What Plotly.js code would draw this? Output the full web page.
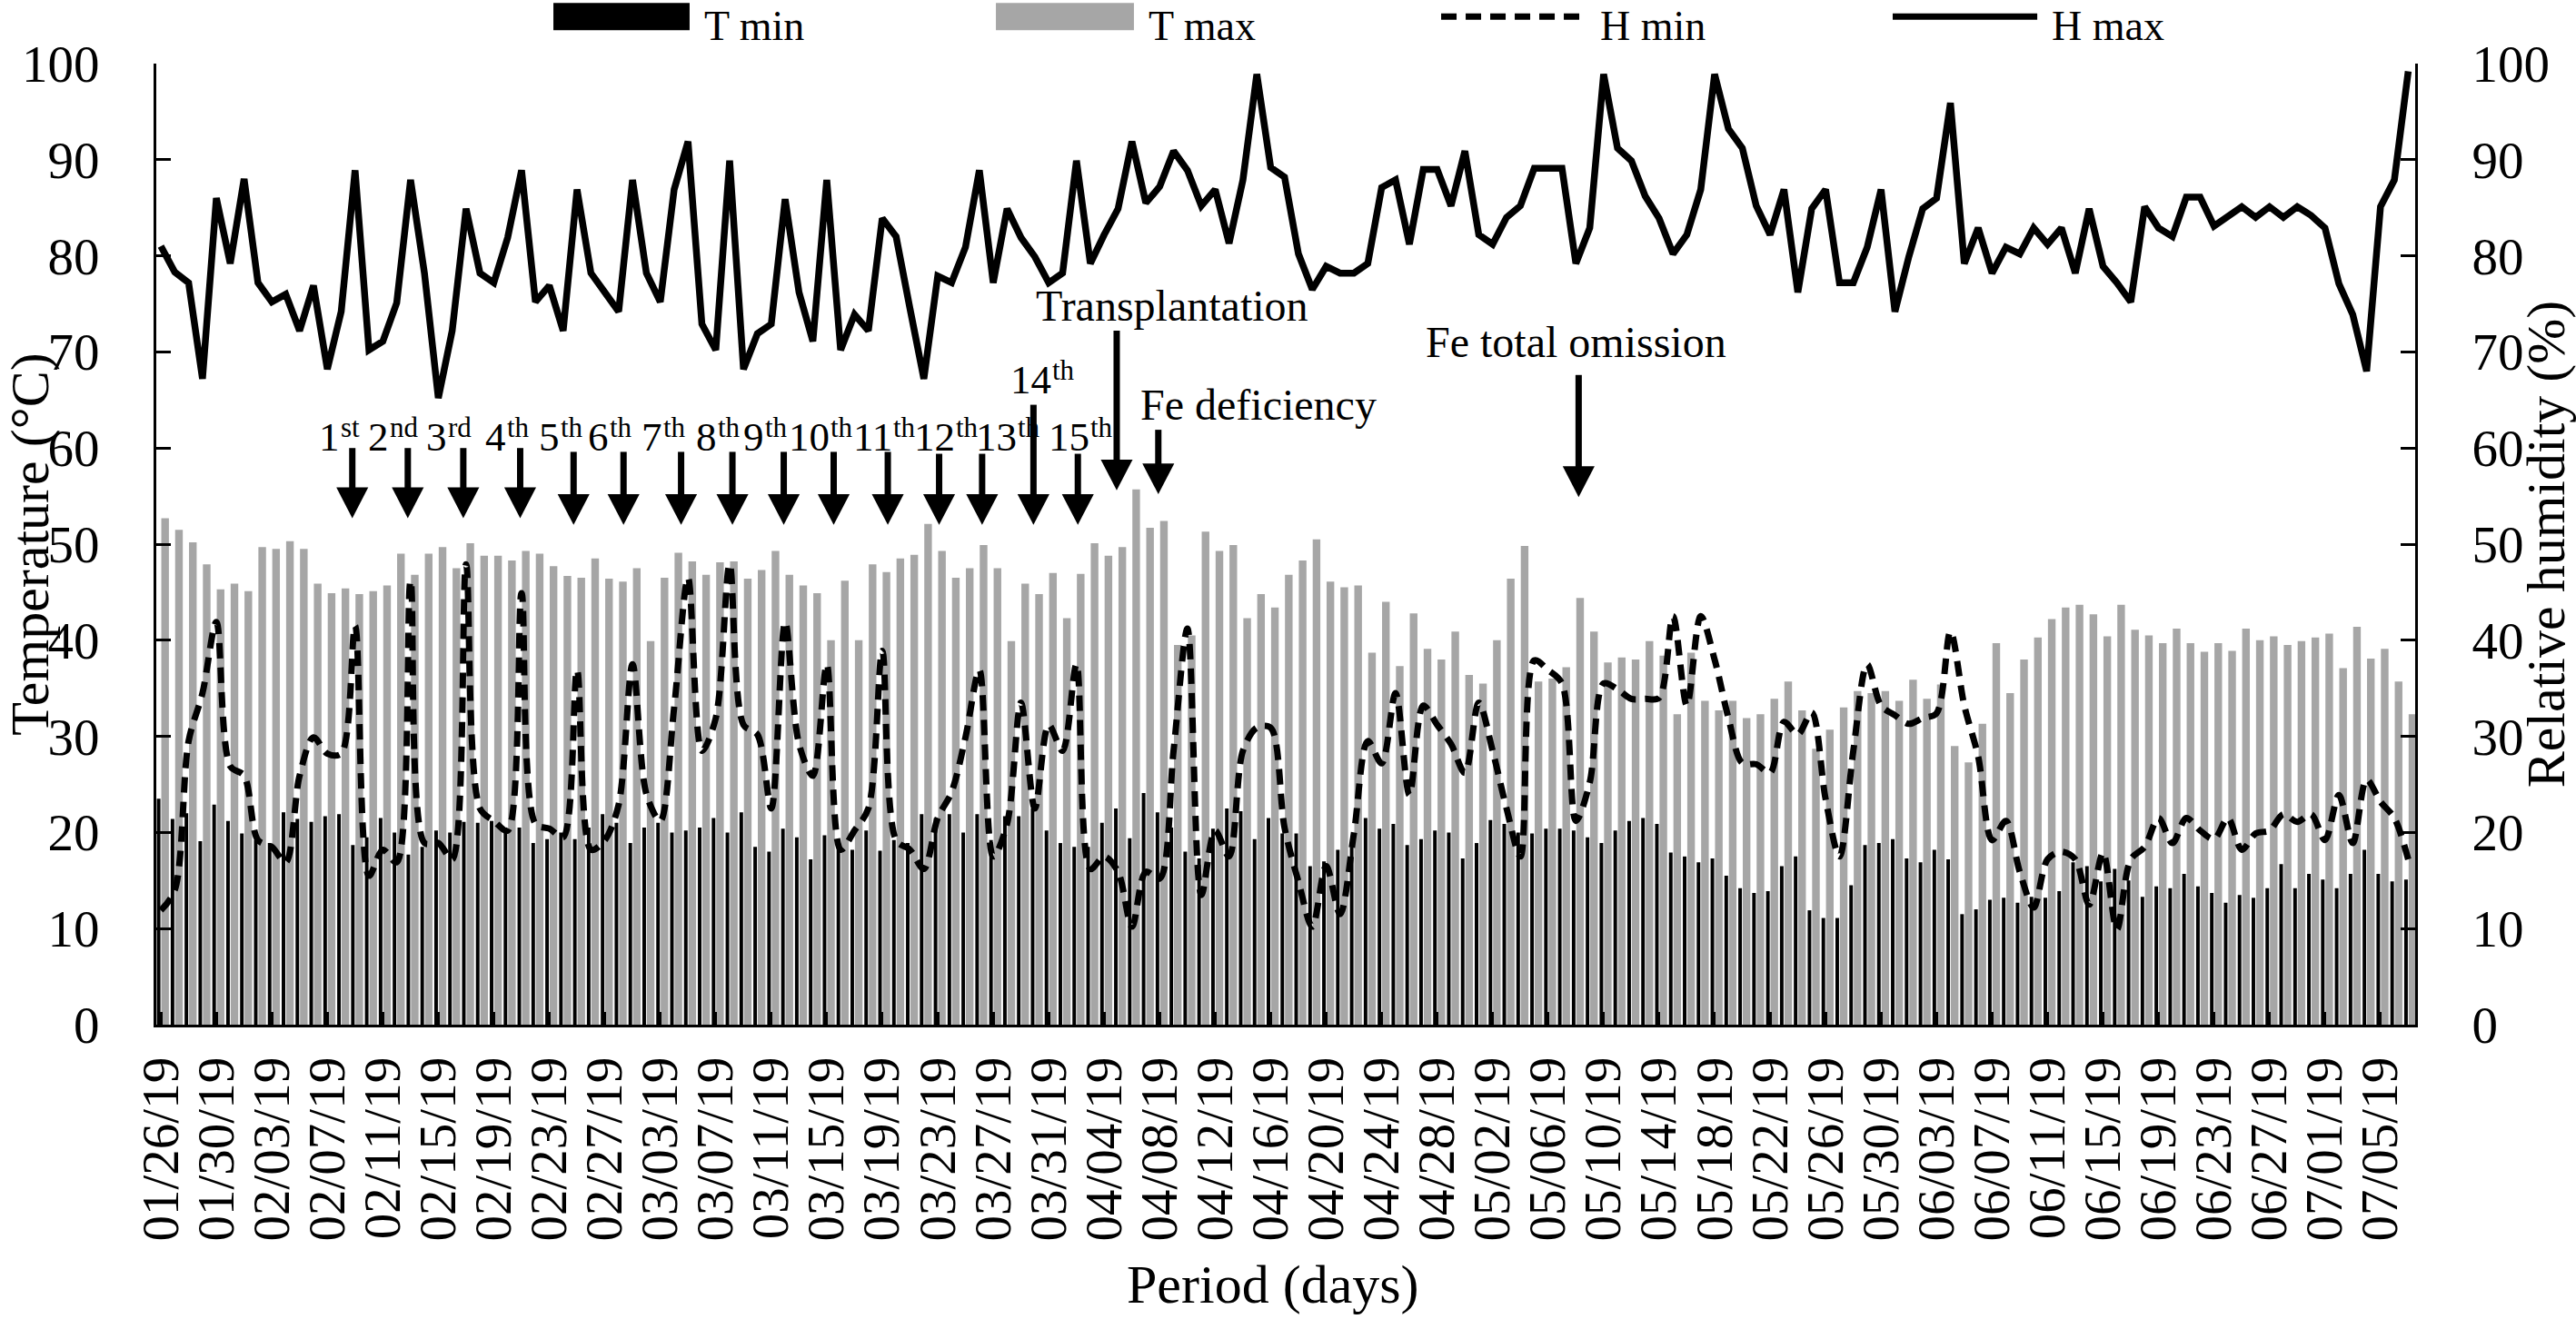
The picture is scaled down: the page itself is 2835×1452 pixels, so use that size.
<!DOCTYPE html>
<html>
<head>
<meta charset="utf-8">
<script src="https://cdn.plot.ly/plotly-3.0.1.min.js"></script>
<style>
  html, body { margin: 0; padding: 0; background: #fff; }
  #chart { width: 2835px; height: 1452px; }
</style>
</head>
<body>
<div id="chart"></div>
<script>
// daily climate in the greenhouse, one value per day from 01/26/19

const tickLabels = [
  '01/26/19', '01/30/19', '02/03/19', '02/07/19', '02/11/19', '02/15/19', '02/19/19',
  '02/23/19', '02/27/19', '03/03/19', '03/07/19', '03/11/19', '03/15/19', '03/19/19',
  '03/23/19', '03/27/19', '03/31/19', '04/04/19', '04/08/19', '04/12/19', '04/16/19',
  '04/20/19', '04/24/19', '04/28/19', '05/02/19', '05/06/19', '05/10/19', '05/14/19',
  '05/18/19', '05/22/19', '05/26/19', '05/30/19', '06/03/19', '06/07/19', '06/11/19',
  '06/15/19', '06/19/19', '06/23/19', '06/27/19', '07/01/19', '07/05/19'
];

// temperature, °C
const tMin = [
  23.5, 21.4, 22.0, 19.1, 22.9, 21.2, 19.9, 19.2, 18.9, 22.1,
  21.4, 21.1, 21.7, 21.9, 18.7, 19.5, 21.5, 20.0, 17.7, 18.5,
  20.2, 20.0, 21.1, 21.0, 21.2, 20.4, 20.5, 18.9, 19.3, 20.0,
  19.3, 20.5, 21.9, 21.0, 18.9, 20.5, 21.0, 20.0, 20.2, 20.5,
  21.5, 20.0, 22.1, 18.5, 18.0, 20.4, 19.5, 17.2, 19.7, 18.5,
  18.2, 20.2, 18.1, 19.2, 18.9, 21.9, 21.5, 21.9, 20.0, 21.9,
  19.2, 21.7, 21.7, 22.5, 20.2, 18.9, 18.5, 18.5, 21.0, 22.5,
  19.4, 24.1, 22.1, 20.5, 18.0, 17.3, 20.4, 22.5, 22.2, 19.3,
  21.5, 19.9, 19.9, 16.5, 17.0, 18.2, 18.5, 21.5, 20.4, 20.9,
  18.7, 19.3, 20.2, 20.0, 17.3, 18.9, 21.3, 20.9, 20.0, 19.9,
  20.4, 20.4, 20.2, 19.5, 18.9, 20.2, 21.2, 21.5, 20.9, 17.9,
  17.5, 16.9, 17.3, 15.5, 14.2, 13.7, 13.9, 16.5, 17.5, 11.9,
  11.1, 11.1, 14.5, 18.7, 18.9, 19.3, 17.3, 16.9, 18.2, 17.2,
  11.5, 12.0, 13.0, 13.2, 12.7, 13.3, 13.2, 13.9, 16.9, 16.5,
  14.9, 16.2, 15.0, 13.3, 14.4, 14.2, 15.7, 14.4, 13.7, 12.7,
  13.5, 13.2, 14.2, 16.7, 14.2, 15.7, 15.1, 14.2, 15.7, 18.2,
  15.7, 14.9, 15.1
];

const tMax = [
  52.7, 51.5, 50.2, 47.9, 45.3, 45.9, 45.1, 49.7, 49.5, 50.3,
  49.5, 45.9, 44.9, 45.4, 44.8, 45.1, 45.7, 49.0, 46.8, 49.0,
  49.7, 47.5, 50.1, 48.8, 48.8, 48.3, 49.3, 49.0, 47.7, 46.7,
  46.5, 48.5, 46.4, 46.1, 47.5, 39.9, 46.5, 49.1, 48.2, 46.8,
  48.1, 48.2, 46.4, 47.3, 49.3, 46.8, 45.7, 44.9, 40.0, 46.2,
  40.0, 47.9, 47.1, 48.5, 48.9, 52.1, 49.3, 46.5, 47.5, 49.9,
  47.5, 39.9, 45.9, 44.8, 47.0, 42.3, 46.9, 50.1, 48.8, 49.7,
  55.7, 51.7, 52.4, 39.5, 40.5, 51.3, 49.3, 49.9, 42.3, 44.8,
  43.4, 46.8, 48.3, 50.5, 46.1, 45.5, 45.7, 38.7, 44.0, 37.3,
  42.8, 39.1, 38.0, 40.9, 36.4, 35.5, 40.0, 46.4, 49.8, 35.7,
  36.0, 37.2, 44.4, 40.9, 37.7, 38.2, 38.0, 39.9, 38.4, 32.3,
  38.7, 33.7, 32.7, 33.7, 31.9, 32.3, 33.9, 35.7, 32.7, 28.7,
  30.7, 33.0, 34.7, 34.5, 34.7, 33.7, 35.9, 33.9, 35.4, 29.0,
  27.3, 31.3, 39.7, 34.5, 38.0, 40.3, 42.2, 43.4, 43.7, 42.7,
  40.4, 43.7, 41.1, 40.5, 39.7, 41.2, 39.7, 38.8, 39.7, 38.9,
  41.2, 40.0, 40.4, 39.5, 39.9, 40.3, 40.7, 37.1, 41.4, 38.1,
  39.1, 35.7, 32.3
];

// relative humidity, %
const hMin = [
  11.9, 14.0, 29.5, 34.5, 41.9, 26.9, 25.9, 19.2, 18.5, 16.9,
  25.9, 29.9, 28.2, 28.2, 41.5, 15.5, 18.2, 16.9, 46.2, 18.9,
  18.9, 17.2, 47.9, 22.5, 21.2, 20.2, 44.9, 20.9, 20.4, 19.5,
  36.9, 18.2, 19.2, 22.9, 37.5, 24.0, 21.2, 33.0, 46.5, 28.5,
  31.9, 47.9, 31.2, 30.2, 22.5, 41.9, 29.2, 25.9, 37.5, 18.2,
  20.2, 22.5, 38.9, 19.2, 18.2, 16.2, 21.5, 24.2, 29.9, 36.9,
  17.5, 20.9, 33.5, 22.5, 31.2, 28.5, 37.5, 16.2, 17.5, 15.9,
  10.2, 15.9, 15.2, 28.5, 41.2, 13.5, 20.2, 17.5, 28.5, 30.9,
  30.9, 20.5, 14.9, 10.2, 16.5, 11.5, 19.9, 29.5, 27.2, 34.5,
  23.9, 33.2, 31.2, 29.2, 26.2, 33.5, 28.5, 22.5, 17.5, 37.9,
  36.9, 35.5, 21.2, 25.2, 35.5, 34.9, 33.9, 33.9, 34.0, 42.5,
  33.2, 42.5, 38.0, 31.9, 27.2, 27.1, 26.2, 31.5, 30.2, 32.5,
  23.5, 17.5, 28.5, 37.5, 33.2, 32.2, 31.3, 31.9, 32.4, 40.9,
  33.2, 27.9, 19.2, 21.2, 15.9, 12.2, 17.2, 18.0, 17.2, 12.5,
  17.9, 9.9, 17.2, 18.5, 21.5, 18.9, 21.5, 20.2, 19.3, 21.5,
  18.2, 19.9, 20.2, 21.9, 21.1, 21.9, 19.2, 23.9, 18.9, 25.5,
  23.2, 21.5, 17.2
];

const hMax = [
  81.0, 78.3, 77.2, 67.2, 86.0, 79.2, 88.0, 77.2, 75.2, 76.0,
  72.2, 76.9, 68.2, 74.2, 88.9, 70.2, 71.1, 75.1, 87.9, 78.2,
  65.2, 72.2, 84.9, 78.2, 77.2, 81.9, 88.9, 75.2, 76.9, 72.2,
  86.9, 78.2, 76.2, 74.2, 87.9, 78.2, 75.2, 86.9, 91.9, 72.9,
  70.2, 89.9, 68.2, 71.9, 72.9, 85.9, 76.2, 71.1, 87.9, 70.2,
  73.9, 72.2, 83.9, 82.0, 74.5, 67.2, 77.9, 77.2, 80.9, 88.9,
  77.2, 84.9, 81.9, 79.9, 77.2, 78.2, 89.9, 79.2, 82.2, 84.9,
  91.9, 85.5, 87.2, 90.9, 88.9, 85.2, 86.9, 81.3, 87.9, 98.9,
  89.2, 88.2, 80.2, 76.5, 78.9, 78.2, 78.2, 79.2, 87.1, 87.9,
  81.2, 89.0, 89.0, 85.2, 90.9, 82.2, 81.2, 84.0, 85.2, 89.1,
  89.1, 89.1, 79.2, 82.9, 98.9, 91.2, 89.9, 86.2, 83.9, 80.2,
  82.2, 86.9, 98.9, 93.2, 91.2, 85.2, 82.2, 86.9, 76.2, 84.9,
  86.9, 77.2, 77.2, 80.9, 86.9, 74.2, 79.9, 84.9, 86.0, 95.9,
  79.2, 82.9, 78.2, 80.9, 80.2, 82.9, 81.2, 82.9, 78.2, 84.9,
  78.9, 77.2, 75.2, 85.1, 82.9, 82.0, 86.1, 86.1, 83.1, 84.0,
  85.1, 84.0, 85.1, 84.0, 85.1, 84.2, 82.9, 77.1, 73.9, 68.0,
  85.1, 87.9, 99.2
];

// one category per day, 01/26/19 onwards
function dayLabel(i) {
  const d = new Date(Date.UTC(2019, 0, 26 + i));
  const mm = String(d.getUTCMonth() + 1).padStart(2, '0');
  const dd = String(d.getUTCDate()).padStart(2, '0');
  return `${mm}/${dd}/19`;
}
const days = tMin.map((_, i) => dayLabel(i));

// events marked with arrows: label centre (day, value), arrow at day from tail to tip
const events = [
  {num: '1',  suf: 'st', lx: 12.9, ly: 58.6, ax: 13.8, tail: 60.0, tip: 52.7},
  {num: '2',  suf: 'nd', lx: 16.8, ly: 58.6, ax: 17.8, tail: 60.0, tip: 52.7},
  {num: '3',  suf: 'rd', lx: 20.8, ly: 58.6, ax: 21.8, tail: 60.0, tip: 52.7},
  {num: '4',  suf: 'th', lx: 25.0, ly: 58.6, ax: 25.9, tail: 60.0, tip: 52.7},
  {num: '5',  suf: 'th', lx: 28.9, ly: 58.6, ax: 29.75, tail: 59.6, tip: 52.0},
  {num: '6',  suf: 'th', lx: 32.4, ly: 58.6, ax: 33.35, tail: 59.6, tip: 52.0},
  {num: '7',  suf: 'th', lx: 36.3, ly: 58.6, ax: 37.5, tail: 59.6, tip: 52.0},
  {num: '8',  suf: 'th', lx: 40.2, ly: 58.6, ax: 41.2, tail: 59.6, tip: 52.0},
  {num: '9',  suf: 'th', lx: 43.6, ly: 58.6, ax: 44.9, tail: 59.6, tip: 52.0},
  {num: '10', suf: 'th', lx: 47.6, ly: 58.6, ax: 48.5, tail: 59.6, tip: 52.0},
  {num: '11', suf: 'th', lx: 52.1, ly: 58.6, ax: 52.4, tail: 59.6, tip: 52.0},
  {num: '12', suf: 'th', lx: 56.6, ly: 58.6, ax: 56.1, tail: 59.4, tip: 52.0},
  {num: '13', suf: 'th', lx: 61.1, ly: 58.6, ax: 59.2, tail: 59.4, tip: 52.0},
  {num: '14', suf: 'th', lx: 63.6, ly: 64.6, ax: 62.9, tail: 64.5, tip: 52.0},
  {num: '15', suf: 'th', lx: 66.3, ly: 58.6, ax: 66.1, tail: 59.4, tip: 52.0},
  {text: 'Transplantation', lx: 72.9, ly: 72.1, ax: 68.9, tail: 72.2, tip: 55.6},
  {text: 'Fe deficiency', lx: 79.1, ly: 61.8, ax: 71.9, tail: 61.9, tip: 55.2},
  {text: 'Fe total omission', lx: 102.0, ly: 68.3, ax: 102.2, tail: 67.6, tip: 54.9}
];

const font = 'Liberation Serif, Times New Roman, serif';
const grey = '#a6a6a6';
const numSize = 45;
const supSize = 31;
const noteSize = 48;

// arrow head size in axis units (about 35 px wide, 34 px tall)
const headHalf = 1.15;
const headLen = 3.2;

// rough Times advance widths, used to centre number + raised suffix
const advance = {s: 0.389, t: 0.278, n: 0.5, d: 0.5, r: 0.333, h: 0.5};
function textWidth(str, size) {
  return [...str].reduce((w, c) => w + (advance[c] || 0.5) * size, 0);
}

const traces = [
  {
    type: 'bar', name: 'T min', x: days, y: tMin,
    offset: -0.29, width: 0.26,
    marker: {color: '#000000', line: {width: 0}}
  },
  {
    type: 'bar', name: 'T max', x: days, y: tMax,
    offset: 0.03, width: 0.55,
    marker: {color: grey, line: {width: 0}}
  },
  {
    type: 'scatter', mode: 'lines', name: 'H min', x: days, y: hMin, yaxis: 'y2',
    line: {color: '#000000', width: 7, dash: '17px,10px', shape: 'spline', smoothing: 0.9}
  },
  {
    type: 'scatter', mode: 'lines', name: 'H max', x: days, y: hMax, yaxis: 'y2',
    line: {color: '#000000', width: 7.5}
  }
];

const annotations = [];
const shapes = [];
events.forEach(ev => {
  if (ev.num) {
    const nw = textWidth(ev.num, numSize);
    const sw = textWidth(ev.suf, supSize);
    const join = -(nw + sw) / 2 + nw;
    annotations.push({
      x: ev.lx, y: ev.ly, xref: 'x', yref: 'y', text: ev.num, showarrow: false,
      xanchor: 'right', yanchor: 'bottom', xshift: join + 1,
      font: {family: font, size: numSize, color: '#000'}
    });
    annotations.push({
      x: ev.lx, y: ev.ly, xref: 'x', yref: 'y', text: ev.suf, showarrow: false,
      xanchor: 'left', yanchor: 'bottom', xshift: join - 2, yshift: 18,
      font: {family: font, size: supSize, color: '#000'}
    });
  } else {
    annotations.push({
      x: ev.lx, y: ev.ly, xref: 'x', yref: 'y', text: ev.text, showarrow: false,
      xanchor: 'center', yanchor: 'bottom',
      font: {family: font, size: noteSize, color: '#000'}
    });
  }
  shapes.push({
    type: 'line', xref: 'x', yref: 'y', x0: ev.ax, x1: ev.ax,
    y0: ev.tail, y1: ev.tip + headLen * 0.8, line: {color: '#000', width: 7}
  });
  shapes.push({
    type: 'path', xref: 'x', yref: 'y', fillcolor: '#000', line: {width: 0},
    path: `M ${ev.ax - headHalf},${ev.tip + headLen} L ${ev.ax + headHalf},${ev.tip + headLen} L ${ev.ax},${ev.tip} Z`
  });
});

// hand-drawn legend above the plot (paper coordinates)
const legendItems = [
  {name: 'T min', kind: 'rect', color: '#000000', x0: 0.1758, x1: 0.2361},
  {name: 'T max', kind: 'rect', color: grey, x0: 0.3717, x1: 0.4328},
  {name: 'H min', kind: 'dash', color: '#000000', x0: 0.5688, x1: 0.6327},
  {name: 'H max', kind: 'line', color: '#000000', x0: 0.7687, x1: 0.8327}
];
const legendY = 1.049;
const legendTop = 1.0655;
legendItems.forEach(it => {
  if (it.kind === 'rect') {
    shapes.push({type: 'rect', xref: 'paper', yref: 'paper', x0: it.x0, x1: it.x1,
      y0: legendY - 0.0142, y1: legendY + 0.0142, fillcolor: it.color, line: {width: 0}});
  } else {
    shapes.push({type: 'line', xref: 'paper', yref: 'paper', x0: it.x0, x1: it.x1,
      y0: legendY, y1: legendY,
      line: {color: it.color, width: 7, dash: it.kind === 'dash' ? '17px,10px' : 'solid'}});
  }
  annotations.push({
    x: it.x1 + 0.0055, y: legendTop, xref: 'paper', yref: 'paper', text: it.name,
    showarrow: false, xanchor: 'left', yanchor: 'top',
    font: {family: font, size: 46, color: '#000'}
  });
});

annotations.push({
  x: 0.4944, y: -0.303, xref: 'paper', yref: 'paper', text: 'Period (days)',
  showarrow: false, xanchor: 'center', yanchor: 'bottom',
  font: {family: font, size: 60, color: '#000'}
});

const yCommon = {
  range: [0, 100], dtick: 10, ticks: 'inside', ticklen: 16, tickwidth: 3,
  tickcolor: '#000', showline: true, linewidth: 3, linecolor: '#000',
  showgrid: false, zeroline: false, ticklabelstandoff: 48,
  tickfont: {family: font, size: 57, color: '#000'}
};

const layout = {
  width: 2835, height: 1452,
  margin: {l: 172, r: 177, t: 70, b: 324},
  paper_bgcolor: '#fff', plot_bgcolor: '#fff',
  barmode: 'overlay', showlegend: false,
  font: {family: font, color: '#000'},
  xaxis: {
    type: 'category', range: [-0.33, 162.5],
    tickmode: 'array', tickvals: tickLabels, ticktext: tickLabels,
    tickangle: -90, ticks: 'inside', ticklen: 14, tickwidth: 3, tickcolor: '#000',
    showline: true, linewidth: 3, linecolor: '#000', showgrid: false, zeroline: false,
    ticklabelstandoff: 10,
    tickfont: {family: font, size: 57, color: '#000'}
  },
  yaxis: Object.assign({}, yCommon, {
    title: {text: 'Temperature (°C)', font: {family: font, size: 60, color: '#000'}}
  }),
  yaxis2: Object.assign({}, yCommon, {
    overlaying: 'y', side: 'right',
    title: {text: 'Relative humidity (%)', font: {family: font, size: 60, color: '#000'}}
  }),
  annotations: annotations,
  shapes: shapes
};

Plotly.newPlot('chart', traces, layout, {staticPlot: true, displayModeBar: false});
</script>
</body>
</html>
